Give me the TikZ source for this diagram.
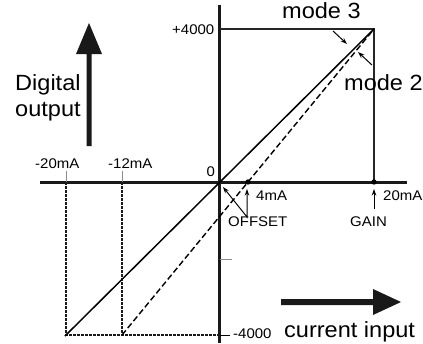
\documentclass[tikz,border=0pt]{standalone}
\usepackage{fontspec}
\usepackage{graphicx}
\setmainfont{Liberation Sans}
\usetikzlibrary{arrows.meta}
\newcommand{\wide}[1]{\scalebox{1.07}[1]{#1}}
\begin{document}
\begin{tikzpicture}[x=1pt,y=-1pt,
  small/.style={font=\fontsize{14}{14}\selectfont, anchor=base west, inner sep=0pt},
  big/.style={font=\fontsize{22}{22}\selectfont, anchor=base west, inner sep=0pt},
  axis/.style={line width=3pt, color=black!90},
  frame/.style={line width=1.8pt, color=black!85},
  dotline/.style={line width=1.5pt, dash pattern=on 2.5pt off 1.5pt, color=black!90},
  ptr/.style={line width=1pt, -{Stealth[length=6.5pt,width=4.5pt]}},
  tick/.style={line width=1pt, color=black!45},
  bigarrow/.style={fill=black!90},
]
\useasboundingbox (0,0) rectangle (423,343);
% key points
\coordinate (O) at (219.5,182);
\coordinate (T) at (374,29);
\coordinate (Ty) at (219.5,29);
\coordinate (G) at (374,182);
\coordinate (F) at (248,182);
\coordinate (A20) at (66,182);
\coordinate (A12) at (122,182);
\coordinate (B20) at (66,335);
\coordinate (B12) at (122,335);
\coordinate (Bo) at (219.5,335);
% axes
\draw[axis] (40,182) -- (407,182);
\draw[axis] (219.5,5) -- (219.5,343);
% frame
\draw[frame] (Ty) -- (T) -- (G);
% dotted guides
\draw[dotline] (A20) -- (B20) -- (Bo);
\draw[dotline] (A12) -- (B12);
% ticks
\draw[tick] (66,171) -- (A20);
\draw[tick] (122,171) -- (A12);
\draw[tick] (219.5,259) -- (232,259);
\draw[line width=1pt] (Bo) -- (230,335);
% characteristic lines
\draw[line width=1.5pt] (65,336) -- (T);
\draw[line width=1.4pt, dash pattern=on 6pt off 3pt] (B12) -- (T);
% dots
\fill (F) circle (2.7);
\fill (G) circle (2.7);
% small pointer arrows
\coordinate (Vb) at (247,217);
\draw[ptr] (374,209) -- (374,189);
\draw[ptr, {Stealth[length=6.5pt,width=4.5pt]}-{Stealth[length=6.5pt,width=4.5pt]}] (223,187) -- (Vb) -- (247,189);
\draw[ptr] (333,31) -- (347,44);
\draw[ptr] (372,65) -- (358,52);
% big arrows
\fill[bigarrow] (86.5,146) -- (86.5,54) -- (76,54) -- (89,23) -- (102,54) -- (91.5,54) -- (91.5,146) -- cycle;
\fill[bigarrow] (281,299) -- (373,299) -- (373,289) -- (401,302) -- (373,315) -- (373,305) -- (281,305) -- cycle;
% labels
\node[big] (dig) at (15,90) {\wide{Digital}};
\node[big] (out) at (15,116) {\wide{output}};
\node[big] (m3) at (282,18) {\wide{mode 3}};
\node[big] (m2) at (344,90.5) {\wide{mode 2}};
\node[big] (ci) at (284,337) {\wide{current input}};
\node[small] (p4) at (172,34) {\wide{+4000}};
\node[small] (m4) at (233,338) {\wide{-4000}};
\node[small] (zero) at (206.5,176) {\wide{0}};
\node[small] (l20) at (35,168) {\wide{-20mA}};
\node[small] (l12) at (108,168) {\wide{-12mA}};
\node[small] (r4) at (256,200) {\wide{4mA}};
\node[small] (r20) at (383,200) {\wide{20mA}};
\node[small] (off) at (228,226) {\wide{OFFSET}};
\node[small] (gain) at (350,226) {\wide{GAIN}};
\end{tikzpicture}
\end{document}
